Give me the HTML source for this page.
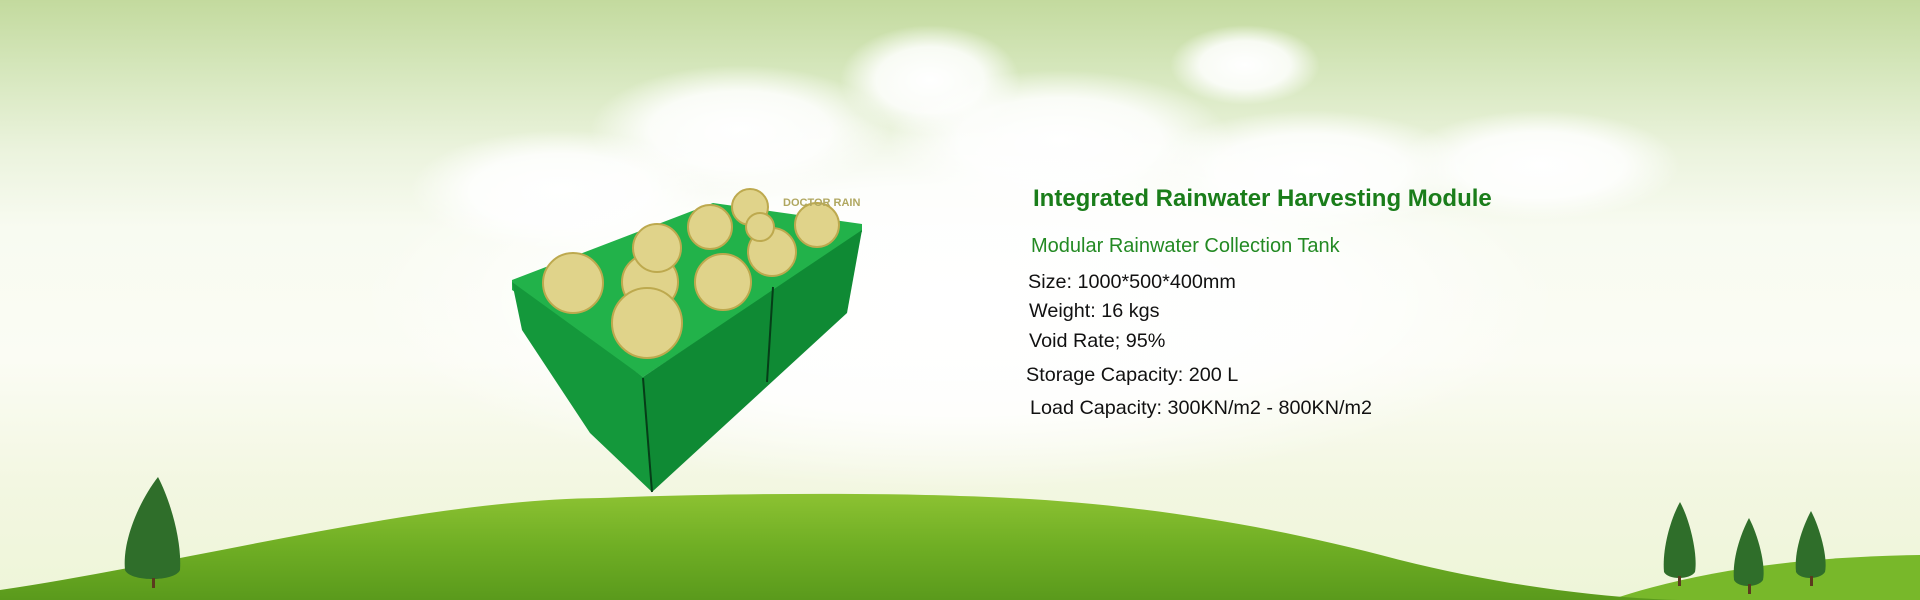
<!DOCTYPE html>
<html><head><meta charset="utf-8"><style>
html,body{margin:0;padding:0;width:1920px;height:600px;overflow:hidden}
.wrap{position:relative;width:1920px;height:600px;background:linear-gradient(180deg,#c3da9e 0%,#d6e7bd 12%,#ebf3dd 25%,#f8fbf1 38%,#fbfcf4 60%,#f3f7e2 80%,#eef5d8 100%)}
svg{position:absolute;left:0;top:0}
.t{position:absolute;font-family:"Liberation Sans",Arial,sans-serif;white-space:nowrap;line-height:1}
.h{color:#1a7d1a;font-weight:bold;font-size:24px}
.s{color:#238a23;font-size:20px}
.b{color:#111;font-size:19.8px}
</style></head><body><div class="wrap">
<svg width="1920" height="600" viewBox="0 0 1920 600">
<defs>
<radialGradient id="cl" cx="50%" cy="50%" r="50%"><stop offset="0" stop-color="#fff" stop-opacity="1"/><stop offset="0.6" stop-color="#fff" stop-opacity="0.85"/><stop offset="1" stop-color="#fff" stop-opacity="0"/></radialGradient>
<linearGradient id="hill" x1="0" y1="0" x2="0" y2="1"><stop offset="0" stop-color="#8cc232"/><stop offset="0.5" stop-color="#6fae24"/><stop offset="1" stop-color="#5a9a1c"/></linearGradient>
</defs>
<ellipse cx="1245" cy="65" rx="75" ry="40" fill="url(#cl)"/>
<ellipse cx="930" cy="80" rx="90" ry="55" fill="url(#cl)"/>
<ellipse cx="740" cy="130" rx="150" ry="65" fill="url(#cl)"/>
<ellipse cx="1060" cy="140" rx="170" ry="70" fill="url(#cl)"/>
<ellipse cx="1540" cy="165" rx="140" ry="55" fill="url(#cl)"/>
<ellipse cx="1310" cy="170" rx="160" ry="60" fill="url(#cl)"/>
<ellipse cx="560" cy="190" rx="150" ry="60" fill="url(#cl)"/>
<ellipse cx="960" cy="300" rx="600" ry="190" fill="url(#cl)"/>
<path d="M1610,600 C1700,570 1800,557 1920,555 L1920,600 Z" fill="#78b82a"/>
<path d="M0,590 C200,560 420,500 600,498 C700,494 850,492 960,496 C1110,500 1250,520 1400,560 C1500,585 1600,598 1680,600 L0,600 Z" fill="url(#hill)"/>
<g fill="#2f6e2a">
<path d="M158,477 C170,500 182,540 180,570 C175,582 130,582 125,570 C122,540 140,500 158,477 Z"/>
<path d="M1680,502 C1690,520 1698,555 1695,572 C1690,580 1668,580 1664,572 C1662,550 1670,520 1680,502 Z"/>
<path d="M1749,518 C1758,535 1766,565 1763,580 C1758,588 1738,588 1734,580 C1732,560 1740,535 1749,518 Z"/>
<path d="M1811,511 C1820,528 1828,558 1825,572 C1820,580 1800,580 1796,572 C1794,552 1802,528 1811,511 Z"/>
</g>
<g fill="#5b3a1e"><rect x="152" y="578" width="3" height="10"/><rect x="1678" y="576" width="3" height="10"/><rect x="1748" y="584" width="3" height="10"/><rect x="1810" y="576" width="3" height="10"/></g>
<!-- box -->
<polygon points="512,280 713,203 862,224 862,232 643,377 512,290" fill="#22b24a"/>
<polygon points="512,282 643,377 652,492 590,433 522,330" fill="#14983b"/>
<polygon points="643,377 862,230 847,313 652,492" fill="#0f8a34"/>
<line x1="643" y1="378" x2="652" y2="492" stroke="#063d18" stroke-width="2"/>
<line x1="773" y1="287" x2="767" y2="382" stroke="#063d18" stroke-width="2"/>
<g fill="#e0d38a" stroke="#bda94e" stroke-width="2">
<circle cx="573" cy="283" r="30"/><circle cx="650" cy="282" r="28"/><circle cx="723" cy="282" r="28"/>
<circle cx="647" cy="323" r="35"/><circle cx="657" cy="248" r="24"/><circle cx="710" cy="227" r="22"/>
<circle cx="772" cy="252" r="24"/><circle cx="817" cy="225" r="22"/><circle cx="750" cy="207" r="18"/><circle cx="760" cy="227" r="14"/>
</g>
</svg>
<div class="t" style="left:783px;top:198px;font-size:11px;font-weight:bold;color:#b0a760">DOCTOR RAIN</div>
<div class="t h" style="left:1033px;top:187px">Integrated Rainwater Harvesting Module</div>
<div class="t s" style="left:1031px;top:236px">Modular Rainwater Collection Tank</div>
<div class="t b" style="left:1028px;top:273px">Size: 1000*500*400mm</div>
<div class="t b" style="left:1029px;top:302px">Weight: 16 kgs</div>
<div class="t b" style="left:1029px;top:332px">Void Rate; 95%</div>
<div class="t b" style="left:1026px;top:366px">Storage Capacity: 200 L</div>
<div class="t b" style="left:1030px;top:399px">Load Capacity: 300KN/m2 - 800KN/m2</div>
</div></body></html>
